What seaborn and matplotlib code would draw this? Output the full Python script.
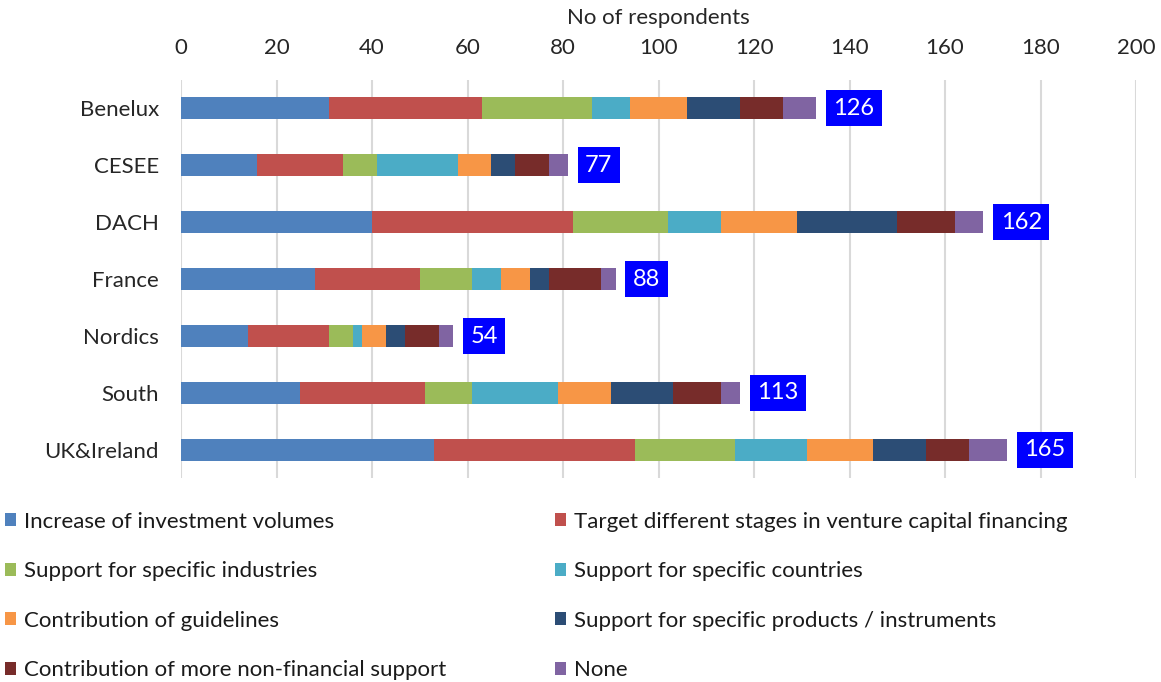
import pandas as pd
import seaborn as sns
import matplotlib.pyplot as plt
from matplotlib.patches import Patch

regions = ["Benelux", "CESEE", "DACH", "France", "Nordics", "South", "UK&Ireland"]
series = [
    "Increase of investment volumes",
    "Target different stages in venture capital financing",
    "Support for specific industries",
    "Support for specific countries",
    "Contribution of guidelines",
    "Support for specific products / instruments",
    "Contribution of more non-financial support",
    "None",
]
increase = [31, 16, 40, 28, 14, 25, 53]
stages = [32, 18, 42, 22, 17, 26, 42]
industries = [23, 7, 20, 11, 5, 10, 21]
countries = [8, 17, 11, 6, 2, 18, 15]
guidelines = [12, 7, 16, 6, 5, 11, 14]
products = [11, 5, 21, 4, 4, 13, 11]
non_financial = [9, 7, 12, 11, 7, 10, 9]
none = [7, 4, 6, 3, 3, 4, 8]
respondents = [126, 77, 162, 88, 54, 113, 165]

colors = ["#4F81BD", "#C0504D", "#9BBB59", "#4BACC6",
          "#F79646", "#2C4D75", "#772C2A", "#8064A2"]

sns.set_style("white")
plt.rcParams['font.family'] = ['Lato', 'DejaVu Sans']
plt.rcParams['text.color'] = '#1a1a1a'

df = pd.DataFrame({"region": regions})
values = [increase, stages, industries, countries, guidelines, products, non_financial, none]
cum = [0] * len(regions)
cum_cols = []
for i, vals in enumerate(values):
    cum = [a + b for a, b in zip(cum, vals)]
    df[f"c{i}"] = cum
    cum_cols.append(f"c{i}")

fig = plt.figure(figsize=(11.61, 6.82), dpi=100)
ax = fig.add_axes([0.1559, 0.2984, 0.8226, 0.585])

# stacked bars: draw cumulative totals from the longest down
for i in reversed(range(len(values))):
    sns.barplot(data=df, x=cum_cols[i], y="region", color=colors[i],
                orient="h", width=0.39, saturation=1, ax=ax,
                edgecolor="none", linewidth=0, zorder=2)

# respondent count boxes
for j, region in enumerate(regions):
    ax.annotate(str(respondents[j]), xy=(df[cum_cols[-1]][j], j),
                xytext=(12.5, 0), textcoords="offset points",
                ha="left", va="center", fontsize=17, color="white",
                bbox=dict(boxstyle="square,pad=0.32", fc="#0000FF", ec="none"))

ax.set_xlim(0, 200)
ax.set_xticks(range(0, 201, 20))
ax.xaxis.tick_top()
ax.xaxis.set_label_position('top')
ax.set_xlabel("No of respondents", fontsize=16, labelpad=10)
ax.set_ylabel("")
ax.tick_params(axis='both', length=0, labelsize=16)
ax.tick_params(axis='x', pad=15.5)
ax.tick_params(axis='y', pad=16)
ax.grid(axis='x', color='#D9D9D9', linewidth=1.5, zorder=0)
ax.set_axisbelow(True)
for s in ax.spines.values():
    s.set_visible(False)

handles = [Patch(facecolor=c, edgecolor='none') for c in colors]
order = [0, 2, 4, 6, 1, 3, 5, 7]
fig.legend([handles[k] for k in order], [series[k] for k in order],
           ncol=2, loc='upper left', bbox_to_anchor=(0.004, 0.25),
           frameon=False, fontsize=16, handlelength=0.5, handleheight=0.5,
           handletextpad=0.35, labelspacing=1.33, columnspacing=4.9,
           borderaxespad=0, borderpad=0)

fig.savefig("out.png", dpi=100)
